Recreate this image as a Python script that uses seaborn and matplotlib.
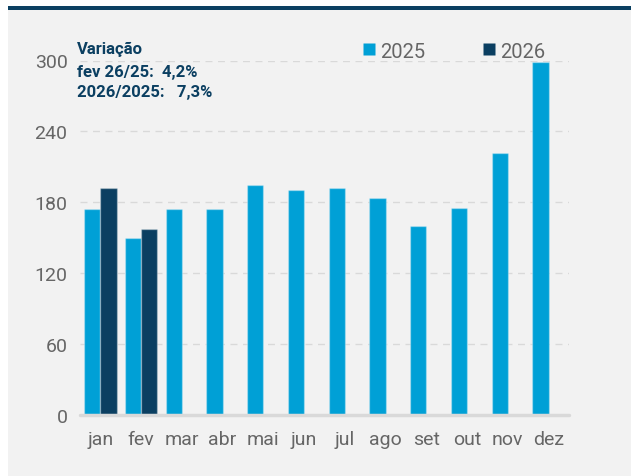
import pandas as pd
import seaborn as sns
import matplotlib.pyplot as plt
from matplotlib.patches import Rectangle

meses = ["jan", "fev", "mar", "abr", "mai", "jun", "jul", "ago", "set", "out", "nov", "dez"]
valores_2025 = [174, 150, 174, 174, 195, 190, 192, 184, 160, 175, 222, 299]
valores_2026 = [192, 157]
anos = ["2025", "2026"]
cores = {"2025": "#00A0D6", "2026": "#0B3F61"}
yticks = [0, 60, 120, 180, 240, 300]

linhas = []
for m, v in zip(meses, valores_2025):
    linhas.append({"mes": m, "ano": "2025", "valor": v})
for m, v in zip(meses, valores_2026):
    linhas.append({"mes": m, "ano": "2026", "valor": v})
df = pd.DataFrame(linhas)

sns.set_theme(style="white")
plt.rcParams["font.family"] = ["Roboto", "DejaVu Sans"]

W, H = 631, 477
fig = plt.figure(figsize=(W / 100, H / 100), dpi=100)
fig.patch.set_facecolor("white")
# painel cinza e faixa escura no topo
fig.patches.append(Rectangle((8 / W, 0), 1, 1 - 11 / H, transform=fig.transFigure,
                             facecolor="#F2F2F2", edgecolor="none", zorder=-2))
fig.patches.append(Rectangle((8 / W, 1 - 11 / H), 1, 4 / H, transform=fig.transFigure,
                             facecolor="#0B3F61", edgecolor="none", zorder=-2))

ax = fig.add_axes([80 / W, 1 - 416 / H, (569 - 80) / W, (416 - 61.5) / H])
ax.set_facecolor("none")

sns.barplot(data=df, x="mes", y="valor", hue="ano", order=meses, hue_order=anos,
            palette=cores, saturation=1, width=0.8, edgecolor=(1, 1, 1, 0.3),
            linewidth=1, ax=ax, zorder=3)

ax.set_xlim(-0.5, 11.5)
ax.set_ylim(0, 300)
ax.set_yticks(yticks)
ax.set_yticklabels([str(t) for t in yticks])
for t in yticks[1:]:
    ax.axhline(t, color="#D9D9D9", lw=1, ls=(0, (5, 4)), zorder=1)
ax.axhline(0, color="#D9D9D9", lw=2.5, zorder=4, clip_on=False)

for s in ax.spines.values():
    s.set_visible(False)
ax.tick_params(axis="both", length=0, labelsize=14, colors="#666666")
ax.tick_params(axis="y", pad=9)
ax.tick_params(axis="x", pad=11)
ax.set_xlabel("")
ax.set_ylabel("")

ax.get_legend().remove()
handles = [plt.Line2D([], [], marker="s", ls="none", markersize=8.5,
                      markerfacecolor=cores[a], markeredgecolor="none") for a in anos]
fig.legend(handles, anos, loc="center left", bbox_to_anchor=(343 / W, 1 - 52 / H),
           ncol=2, frameon=False, fontsize=14.5, labelcolor="#666666",
           handletextpad=0.15, columnspacing=2.75, handlelength=0.8)

fig.text(77 / W, 1 - 49 / H, "Variação", fontsize=12, fontweight="bold",
         color="#0B3F61", va="center")
fig.text(77 / W, 1 - 72 / H, "fev 26/25:  4,2%", fontsize=12, fontweight="bold",
         color="#0B3F61", va="center")
fig.text(77 / W, 1 - 93 / H, "2026/2025:   7,3%", fontsize=12, fontweight="bold",
         color="#0B3F61", va="center")

fig.savefig("out.png", dpi=100, facecolor=fig.get_facecolor())
